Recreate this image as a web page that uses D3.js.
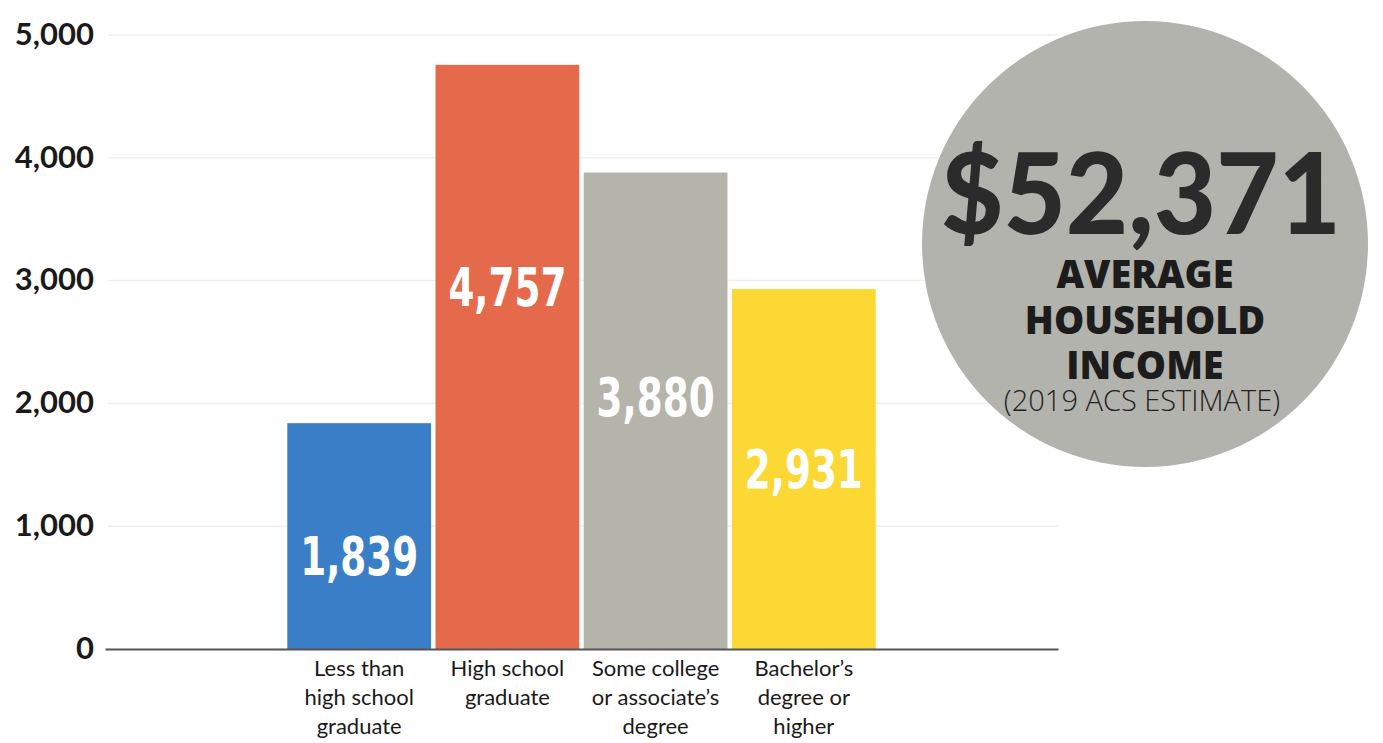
<!DOCTYPE html>
<html>
<head>
<meta charset="utf-8">
<script src="https://cdn.jsdelivr.net/npm/d3@7"></script>
<style>
  body { margin: 0; background: #fff; }
  svg { display: block; }
</style>
</head>
<body>
<div id="chart"></div>
<script>
// data
const categories = ['Less than high school graduate', 'High school graduate', 'Some college or associate\u2019s degree', 'Bachelor\u2019s degree or higher'];
const categoryLines = [['Less than', 'high school', 'graduate'], ['High school', 'graduate'], ['Some college', 'or associate\u2019s', 'degree'], ['Bachelor\u2019s', 'degree or', 'higher']];
const values = [1839, 4757, 3880, 2931];
// where each value label sits inside its bar (baseline, in data units)
const labelAt = [600, 2790, 1900, 1310];
const barColors = ['#3a7ec8', '#e56a4c', '#b4b4ab', '#fbd834'];
const yTicks = [0, 1000, 2000, 3000, 4000, 5000];
const badgeValue = '$52,371';
const badgeLines = ['AVERAGE', 'HOUSEHOLD', 'INCOME'];
const badgeNote = '(2019 ACS ESTIMATE)';

const width = 1383, height = 743;
const svg = d3.select('#chart')
  .append('svg')
  .attr('width', width)
  .attr('height', height);

const x = d3.scaleBand()
  .domain(categories)
  .range([105, 1058])
  .paddingInner(0.03)
  .paddingOuter(1.23);

const y = d3.scaleLinear()
  .domain([0, 5000])
  .range([649, 35]);

// gridlines
svg.append('g')
  .selectAll('line')
  .data(yTicks.filter(d => d > 0))
  .enter()
  .append('line')
  .attr('x1', 108)
  .attr('x2', 1058)
  .attr('y1', d => y(d))
  .attr('y2', d => y(d))
  .attr('stroke', '#efefef')
  .attr('stroke-width', 1.5);

// y axis labels
const yAxis = d3.axisLeft(y)
  .tickValues(yTicks)
  .tickFormat(d3.format(','))
  .tickSize(0)
  .tickPadding(0);
const ya = svg.append('g')
  .attr('transform', 'translate(94,0)')
  .call(yAxis);
ya.select('.domain').remove();
ya.selectAll('text')
  .attr('font-family', 'Lato, "Open Sans", sans-serif')
  .attr('font-weight', 'bold')
  .attr('font-size', 31)
  .attr('fill', '#1a1a1a')
  .attr('dy', '0.3em');

// bars
svg.append('g')
  .selectAll('rect')
  .data(values)
  .enter()
  .append('rect')
  .attr('x', (d, i) => x(categories[i]))
  .attr('y', d => y(d))
  .attr('width', x.bandwidth())
  .attr('height', d => y(0) - y(d))
  .attr('fill', (d, i) => barColors[i]);

// value labels
svg.append('g')
  .selectAll('text')
  .data(values)
  .enter()
  .append('text')
  .attr('x', (d, i) => x(categories[i]) + x.bandwidth() / 2)
  .attr('y', (d, i) => y(labelAt[i]))
  .attr('text-anchor', 'middle')
  .attr('font-family', '"DejaVu Sans Condensed", "DejaVu Sans", sans-serif')
  .attr('font-weight', 'bold')
  .attr('font-size', 54)
  .attr('textLength', 118)
  .attr('lengthAdjust', 'spacingAndGlyphs')
  .attr('fill', '#fff')
  .text(d3.format(','));

// x axis line
const xAxis = d3.axisBottom(x).tickSize(0).tickFormat('');
const xa = svg.append('g')
  .attr('transform', `translate(0,${y(0)})`)
  .call(xAxis);
xa.select('.domain')
  .attr('stroke', '#555')
  .attr('stroke-width', 2);

// category labels
const cat = svg.append('g')
  .selectAll('text')
  .data(categories)
  .enter()
  .append('text')
  .attr('x', d => x(d) + x.bandwidth() / 2)
  .attr('y', 676)
  .attr('text-anchor', 'middle')
  .attr('font-family', 'Lato, "Open Sans", sans-serif')
  .attr('font-size', 22)
  .attr('fill', '#1a1a1a');
cat.selectAll('tspan')
  .data((d, i) => categoryLines[i])
  .enter()
  .append('tspan')
  .attr('x', function() { return this.parentNode.getAttribute('x'); })
  .attr('dy', (d, i) => i === 0 ? 0 : 29)
  .text(d => d);

// badge
const cx = 1145, cy = 244;
svg.append('circle')
  .attr('cx', cx)
  .attr('cy', cy)
  .attr('r', 223)
  .attr('fill', '#b3b3ad');

svg.append('text')
  .attr('x', cx - 4)
  .attr('y', 234)
  .attr('text-anchor', 'middle')
  .attr('font-family', 'Lato, "Open Sans", sans-serif')
  .attr('font-weight', 900)
  .attr('font-size', 112)
  .attr('textLength', 400)
  .attr('lengthAdjust', 'spacingAndGlyphs')
  .attr('fill', '#2b2b2b')
  .text(badgeValue);

svg.append('g')
  .selectAll('text')
  .data(badgeLines)
  .enter()
  .append('text')
  .attr('x', cx)
  .attr('y', (d, i) => 288 + i * 45.5)
  .attr('text-anchor', 'middle')
  .attr('font-family', '"Open Sans", Lato, sans-serif')
  .attr('font-weight', 800)
  .attr('font-size', 38)
  .attr('fill', '#1c1c1c')
  .text(d => d);

svg.append('text')
  .attr('x', cx - 3)
  .attr('y', 411)
  .attr('text-anchor', 'middle')
  .attr('font-family', '"Open Sans", Lato, sans-serif')
  .attr('font-weight', 300)
  .attr('font-size', 29)
  .attr('fill', '#222')
  .text(badgeNote);
</script>
</body>
</html>
